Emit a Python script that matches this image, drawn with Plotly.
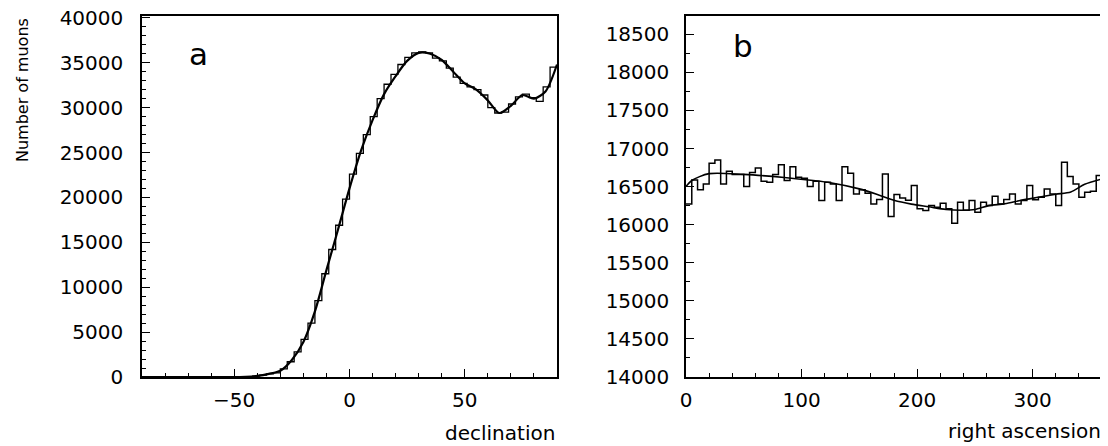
import numpy as np
import plotly.graph_objects as go

# ---------------- data ----------------
# Panel a: declination histogram (3-degree bins from -90 to 90)
dec_bin_width = 3
dec_counts = [0, 0, 0, 0, 0, 0, 0, 0, 0, 0, 0, 0, 0, 0, 0,
              30, 100, 200, 350, 450, 900, 1700, 2800, 4200, 6000,
              8500, 11500, 14200, 16900, 19800, 22600, 24900, 27000, 29000, 31000,
              32600, 33700, 34800, 35600, 36100, 36200, 36100, 35500, 35200, 34400,
              33400, 32700, 32300, 32000, 31400, 30000, 29400, 29500, 30400, 31200,
              31500, 31100, 30700, 32300, 34500]
# smooth expectation curve for panel a
dec_curve_x = [-90, -50, -45, -40, -35, -30, -25, -20, -15, -10, -5, 0, 5, 10, 15,
               20, 25, 30, 35, 40, 45, 50, 55, 60, 65, 70, 75, 80, 85, 90]
dec_curve_y = [0, 0, 20, 120, 350, 700, 1900, 3900, 7300, 11900, 16400, 21000, 25200,
               28600, 31500, 33500, 35200, 36100, 36000, 35300, 34000, 32700, 32000,
               30800, 29400, 30200, 31400, 31000, 31800, 34800]

# Panel b: right ascension histogram (5-degree bins from 0 to 360)
ra_bin_width = 5
ra_counts = [16273, 16588, 16457, 16535, 16806, 16849, 16535, 16701, 16658, 16658,
             16500, 16684, 16745, 16570, 16557, 16658, 16788, 16580, 16762, 16622,
             16610, 16500, 16570, 16317, 16557, 16535, 16317, 16762, 16675, 16404,
             16457, 16413, 16273, 16330, 16666, 16107, 16396, 16350, 16320, 16514,
             16208, 16186, 16252, 16230, 16282, 16208, 16020, 16295, 16190, 16317,
             16164, 16295, 16252, 16374, 16273, 16330, 16404, 16273, 16317, 16514,
             16326, 16361, 16470, 16404, 16252, 16820, 16632, 16535, 16361, 16426,
             16440, 16645]
ra_curve_x = [0, 5, 20, 50, 85, 110, 125, 150, 165, 180, 195, 210, 225, 240, 250,
              262, 276, 290, 305, 320, 333, 345, 360]
ra_curve_y = [16500, 16580, 16670, 16660, 16620, 16580, 16550, 16470, 16400, 16320,
              16270, 16235, 16200, 16190, 16200, 16250, 16275, 16320, 16360, 16400,
              16430, 16530, 16600]

# ---------------- figure ----------------
# the page adds an 8 px body margin at top/left, so the figure starts at (8, 8)
OFF = 8
W, H = 1108 - OFF, 446 - OFF


def px_x(p):
    return (p - OFF) / W


def px_y(p):
    return 1 - (p - OFF) / H


def step_xy(start, width, counts):
    edges = start + width * np.arange(len(counts) + 1)
    return edges, list(counts) + [counts[-1]]


fig = go.Figure()

hx, hy = step_xy(-90, dec_bin_width, dec_counts)
fig.add_trace(go.Scatter(x=hx, y=hy, mode="lines", line=dict(shape="hv", color="black", width=1.3),
                         xaxis="x", yaxis="y", hoverinfo="skip"))
fig.add_trace(go.Scatter(x=dec_curve_x, y=dec_curve_y, mode="lines",
                         line=dict(shape="spline", smoothing=0.8, color="black", width=2.2),
                         xaxis="x", yaxis="y", hoverinfo="skip"))

rx, ry = step_xy(0, ra_bin_width, ra_counts)
fig.add_trace(go.Scatter(x=rx, y=ry, mode="lines", line=dict(shape="hv", color="black", width=1.5),
                         xaxis="x2", yaxis="y2", hoverinfo="skip"))
fig.add_trace(go.Scatter(x=ra_curve_x, y=ra_curve_y, mode="lines",
                         line=dict(shape="spline", smoothing=0.8, color="black", width=1.6),
                         xaxis="x2", yaxis="y2", hoverinfo="skip"))

font = "DejaVu Sans"
tickfont = dict(family=font, size=20, color="black")

common = dict(showgrid=False, zeroline=False, showline=True, linecolor="black", linewidth=1.5,
              mirror=True, ticks="inside", tickcolor="black", tickwidth=1.2, ticklen=8,
              tickfont=tickfont, automargin=False, tickformat="d", ticklabeloverflow="allow")

fig.update_layout(
    template="none",
    width=W, height=H, margin=dict(l=0, r=0, t=0, b=0, pad=0), autosize=False,
    paper_bgcolor="white", plot_bgcolor="white", showlegend=False,
    xaxis=dict(domain=[px_x(142), px_x(557)], range=[-90, 90], tickvals=[-50, 0, 50],
               ticktext=["\u221250", "0", "50"], ticklabelstandoff=4,
               minor=dict(dtick=10, tick0=0, ticks="inside", ticklen=4, tickcolor="black", tickwidth=1),
               anchor="y", **common),
    yaxis=dict(domain=[px_y(377), px_y(16)], range=[0, 40200], dtick=5000, tick0=0,
               ticklabelstandoff=13,
               minor=dict(dtick=1000, tick0=0, ticks="inside", ticklen=4, tickcolor="black", tickwidth=1),
               anchor="x", **common),
    xaxis2=dict(domain=[px_x(686), px_x(1102)], range=[0, 360], dtick=100, tick0=0,
                ticklabelstandoff=4,
                minor=dict(dtick=20, tick0=0, ticks="inside", ticklen=4, tickcolor="black", tickwidth=1),
                anchor="y2", **common),
    yaxis2=dict(domain=[px_y(377), px_y(16)], range=[14000, 18740], dtick=500, tick0=14000,
                ticklabelstandoff=11,
                minor=dict(dtick=250, tick0=14000, ticks="inside", ticklen=4, tickcolor="black", tickwidth=1),
                anchor="x2", **common),
)

ann_font = dict(family=font, size=20, color="black")
fig.add_annotation(text="declination", x=px_x(557), y=px_y(433), xref="paper", yref="paper",
                   xanchor="right", yanchor="middle", showarrow=False, font=ann_font)
fig.add_annotation(text="right ascension", x=px_x(1103), y=px_y(431), xref="paper", yref="paper",
                   xanchor="right", yanchor="middle", showarrow=False, font=ann_font)
fig.add_annotation(text="Number of muons", x=px_x(22), y=px_y(16), xref="paper", yref="paper",
                   xanchor="center", yanchor="top", textangle=-90, showarrow=False,
                   font=dict(family=font, size=16, color="black"))
fig.add_annotation(text="a", x=px_x(198), y=px_y(54), xref="paper", yref="paper",
                   xanchor="center", yanchor="middle", showarrow=False,
                   font=dict(family=font, size=31, color="black"))
fig.add_annotation(text="b", x=px_x(743), y=px_y(46), xref="paper", yref="paper",
                   xanchor="center", yanchor="middle", showarrow=False,
                   font=dict(family=font, size=31, color="black"))

fig.write_html("out.html")
